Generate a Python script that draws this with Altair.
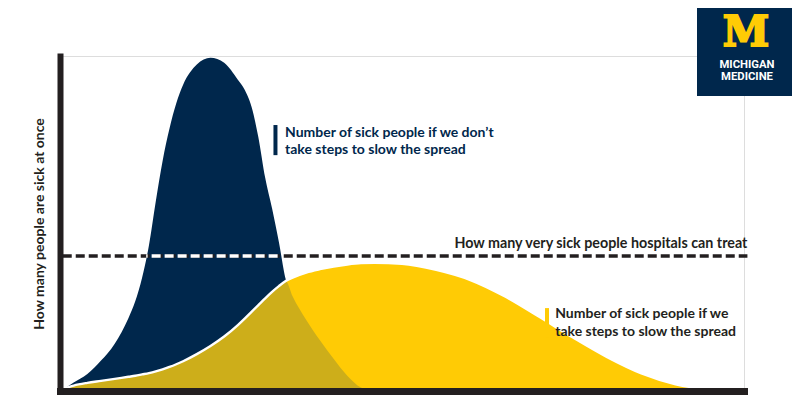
import altair as alt
import pandas as pd

# ---- data (arbitrary time / case units) ----
t = [0, 1, 2, 4, 6, 8, 10, 11, 12, 13, 14, 15, 16, 17, 18, 20, 22, 24, 26, 27, 28, 29,
     30, 31, 32, 33, 34, 36, 38, 40, 42, 44, 46, 50, 55, 60, 65, 70, 75, 80, 85, 90, 95, 100]
no_action = [0, 1.2, 2.5, 5, 9, 14, 21.5, 26.5, 33.5, 43, 56, 68, 77.5, 85, 90.5, 96.5, 98.5,
             97, 92, 89, 84, 75, 63, 54, 44, 33, 28, 21, 15, 9.5, 4.5, 1, 0, 0, 0, 0,
             0, 0, 0, 0, 0, 0, 0, 0]
with_action = [0, 1.0, 1.6, 2.4, 3.0, 3.6, 4.2, 4.5, 4.9, 5.3, 5.8, 6.4, 7.1, 7.9, 8.8, 10.9,
               13.3, 16.1, 19.5, 21.4, 23.4, 25.4, 27.4, 29.3, 31, 32.5, 33.5, 35, 36, 36.8,
               37.4, 37.8, 37.9, 37.6, 35.8, 32.8, 28, 22, 15.8, 10, 5.2, 2, 0.5, 0]
capacity = 39.9

label_no_action = ["Number of sick people if we don\u2019t", "take steps to slow the spread"]
label_action = ["Number of sick people if we", "take steps to slow the spread"]
label_capacity = "How many very sick people hospitals can treat"
y_title = "How many people are sick at once"
logo_lines = ["MICHIGAN", "MEDICINE"]

NAVY = "#00274C"
MAIZE = "#FFCB05"
OLIVE = "#CDAE1A"
INK = "#231F20"
FONT = "Lato"
FS = 14

df = pd.DataFrame({"t": t, "blue": no_action, "yellow": with_action})
one = pd.DataFrame({"k": [0]})

xs = alt.Scale(domain=[0, 100], nice=False, zero=False)
ys = alt.Scale(domain=[0, 99], nice=False)
x_axis = alt.Axis(title=None, labels=False, ticks=False, grid=False, domainWidth=7,
                  domainColor=INK, domainCap="square", zindex=2)
y_axis = alt.Axis(title=y_title, labels=False, ticks=False, grid=False, domainWidth=6,
                  domainColor=INK, domainCap="square", zindex=2, titleFont=FONT,
                  titleFontSize=FS, titleFontWeight="bold", titleColor=INK, titlePadding=14)

X = alt.X("t:Q", scale=xs, axis=x_axis)

base = alt.Chart(df)
blue_area = base.mark_area(color=NAVY, interpolate="monotone").encode(
    x=X, y=alt.Y("blue:Q", scale=ys, axis=y_axis))
yellow_area = base.mark_area(color=MAIZE, interpolate="monotone").encode(
    x=X, y=alt.Y("yellow:Q", scale=ys, axis=y_axis))
olive_area = base.transform_calculate(both="min(datum.blue, datum.yellow)").mark_area(
    color=OLIVE, interpolate="monotone").encode(
    x=X, y=alt.Y("both:Q", scale=ys, axis=y_axis))
white_edge = base.mark_line(color="white", strokeWidth=2.4, interpolate="monotone").encode(
    x=X, y=alt.Y("yellow:Q", scale=ys, axis=y_axis))

ann = alt.Chart(one)
cap_line = ann.mark_rule(color=INK, strokeWidth=3.5, strokeDash=[9, 4]).encode(
    x=alt.datum(0.4), x2=alt.datum(100.5), y=alt.datum(capacity))
cap_line_white = ann.mark_rule(color="white", strokeWidth=3.5, strokeDash=[9, 4],
                               strokeDashOffset=-((12.6 - 0.4) * 6.84 % 13)).encode(
    x=alt.datum(12.6), x2=alt.datum(32.3), y=alt.datum(capacity))
cap_text = ann.mark_text(align="right", baseline="alphabetic", font=FONT, fontSize=FS + 0.3,
                         fontWeight="bold", color=INK).encode(
    x=alt.datum(100.5), y=alt.datum(42.3), text=alt.value(label_capacity))

blue_bar = ann.mark_rule(color=NAVY, strokeWidth=4).encode(
    x=alt.datum(31.5), y=alt.datum(78.6), y2=alt.datum(69.7))
blue_text = ann.mark_text(align="left", baseline="alphabetic", font=FONT, fontSize=FS,
                          fontWeight="bold", color=NAVY, lineHeight=17.5).encode(
    x=alt.datum(32.9), y=alt.datum(75.2), text=alt.value(label_no_action))
yellow_bar = ann.mark_rule(color=MAIZE, strokeWidth=4).encode(
    x=alt.datum(71.2), y=alt.datum(24.5), y2=alt.datum(15.7))
yellow_text = ann.mark_text(align="left", baseline="alphabetic", font=FONT, fontSize=FS,
                            fontWeight="bold", color=INK, lineHeight=17.5).encode(
    x=alt.datum(72.4), y=alt.datum(21.5), text=alt.value(label_action))

logo_box = ann.mark_rect(color=NAVY).encode(
    x=alt.value(637), x2=alt.value(740), y=alt.value(-60), y2=alt.value(40))
logo_m = ann.mark_text(font="DejaVu Serif", fontWeight="bold", fontSize=42, color=MAIZE,
                       align="center", baseline="alphabetic", stroke=MAIZE,
                       strokeWidth=2).encode(
    x=alt.value(686), y=alt.value(-10), text=alt.value("M"))
logo_t = ann.mark_text(font="Roboto", fontWeight="bold", fontSize=11.3, color="white",
                       align="center", baseline="alphabetic", lineHeight=12.7).encode(
    x=alt.value(687), y=alt.value(11.5), text=alt.value(logo_lines))

chart = alt.layer(
    blue_area, yellow_area, olive_area, white_edge, cap_line, cap_line_white, cap_text,
    blue_bar, blue_text, yellow_bar, yellow_text, logo_box, logo_m, logo_t
).properties(
    width=684, height=335, autosize="none",
    padding={"left": 52, "top": 48, "right": 48, "bottom": 30},
).configure_view(stroke=None).configure(background="white")

chart.save("out.html", embed_options={"renderer": "svg", "actions": False})
